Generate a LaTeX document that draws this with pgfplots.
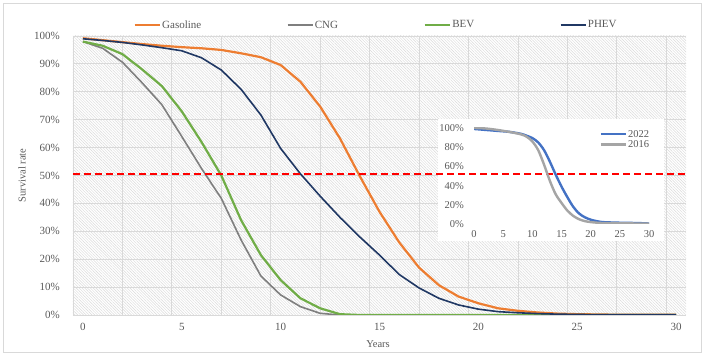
\documentclass[border=0pt]{standalone}
\usepackage{fontspec}
\setmainfont{Liberation Serif}
\usepackage{pgfplots}
\usepackage{pgfplotstable}
\pgfplotsset{compat=1.18}
\usetikzlibrary{patterns.meta}
\definecolor{cGas}{HTML}{ED7D31}
\definecolor{cCNG}{HTML}{7F7F7F}
\definecolor{cBEV}{HTML}{70AD47}
\definecolor{cPHEV}{HTML}{203864}
\definecolor{cA}{HTML}{4472C4}
\definecolor{cB}{HTML}{A5A5A5}
\definecolor{txt}{HTML}{595959}
\definecolor{gridc}{HTML}{D9D9D9}
\definecolor{hatch}{HTML}{DADADA}

\pgfplotstableread{
yr gas cng bev phev
0 99.2 98.0 98.0 99.0
1 98.5 95.6 96.5 98.4
2 97.8 90.6 93.5 97.7
3 97.1 83.2 88.0 96.8
4 96.5 75.3 82.0 95.8
5 96.0 64.0 73.0 94.7
6 95.6 52.5 62.0 92.2
7 95.0 41.8 50.0 87.8
8 93.8 26.9 34.0 80.9
9 92.4 14.0 21.5 71.7
10 89.6 7.2 12.5 59.7
11 83.6 3.0 6.0 50.6
12 74.7 0.6 2.4 42.6
13 63.3 0.0 0.3 35.0
14 49.8 0.0 0.0 28.0
15 37.0 0.0 0.0 21.5
16 26.0 0.0 0.0 14.5
17 17.0 0.0 0.0 9.7
18 10.7 0.0 0.0 6.0
19 6.6 0.0 0.0 3.6
20 4.2 0.0 0.0 2.1
21 2.4 0.0 0.0 1.2
22 1.5 0.0 0.0 0.8
23 0.9 0.0 0.0 0.5
24 0.5 0.0 0.0 0.3
25 0.3 0.0 0.0 0.2
26 0.2 0.0 0.0 0.1
27 0.1 0.0 0.0 0.1
28 0.1 0.0 0.0 0.1
29 0.1 0.0 0.0 0.1
30 0.1 0.0 0.0 0.1
}\maindata

\pgfplotstableread{
x y
0 99.0
2 98.0
4 97.0
6 96.0
8 94.0
9 92.0
10 89.5
11 85.0
12 77.0
13 65.0
14 51.5
15 39.0
16 28.0
17 18.0
18 11.0
19 7.0
20 4.5
21 3.0
22 2.0
24 1.5
26 1.2
28 1.0
30 0.5
}\insetA

\pgfplotstableread{
x y
0 100.0
2 99.5
4 98.0
6 96.0
8 93.5
9 91.0
10 86.0
11 77.0
12 62.0
13 45.0
14 31.0
15 22.0
16 14.0
17 8.5
18 5.0
19 3.0
20 2.0
22 1.0
25 0.8
28 0.5
30 0.3
}\insetB

\begin{document}
\begin{tikzpicture}
\useasboundingbox (-73pt,-41pt) rectangle (631pt,315pt);
\draw[gridc, line width=0.8pt] (-70pt,-37pt) rectangle (628pt,312pt);
\begin{axis}[
  at={(0pt,0pt)}, anchor=south west,
  scale only axis, width=613pt, height=279pt,
  xmin=-0.5, xmax=30.5, ymin=0, ymax=100,
  axis line style={draw=none},
  major tick length=0pt, minor tick length=0pt,
  xtick={0,5,...,30},
  minor xtick={-0.5,2,4.5,7,9.5,12,14.5,17,19.5,22,24.5,27,29.5},
  xminorgrids=true,
  ytick={0,10,...,100},
  ymajorgrids=true,
  grid style={gridc, line width=0.8pt},
  minor grid style={gridc, line width=0.8pt},
  axis background/.style={fill=white, postaction={pattern={Lines[angle=-45,distance=2pt,line width=0.45pt]}, pattern color=hatch}},
  /pgf/number format/assume math mode=true,
  yticklabel={\pgfmathprintnumber{\tick}\%},
  ticklabel style={font=\fontsize{11}{13}\selectfont, text=txt},
  yticklabel style={anchor=east, inner sep=0pt, xshift=-13pt},
  xticklabel style={anchor=center, inner sep=0pt, yshift=-12pt},
  xlabel={Years}, ylabel={Survival rate},
  label style={font=\fontsize{10.5}{12}\selectfont, text=txt},
  xlabel style={at={(axis description cs:0.4976,-0.104)}, anchor=center},
  ylabel style={at={(axis description cs:-0.0832,0.5)}, anchor=center},
  legend columns=4,
  legend image code/.code={\draw[#1] (0pt,0pt) -- (25pt,0pt);},
  legend style={at={(0.494,1.039)}, anchor=center, draw=none, fill=none,
    font=\fontsize{11}{13}\selectfont, text=txt,
    nodes={inner xsep=1.5pt, inner ysep=1pt},
    /tikz/every even column/.append style={column sep=84pt}},
]
\addplot[cGas, line width=2.2pt] table[x=yr, y=gas] {\maindata};
\addlegendentry{Gasoline}
\addplot[cCNG, line width=1.6pt] table[x=yr, y=cng] {\maindata};
\addlegendentry{CNG}
\addplot[cBEV, line width=2.2pt] table[x=yr, y=bev] {\maindata};
\addlegendentry{BEV}
\addplot[cPHEV, line width=1.6pt] table[x=yr, y=phev] {\maindata};
\addlegendentry{PHEV}
\fill[white] (axis cs:17.96,26.5) rectangle (axis cs:29.39,70.25);
\addplot[red, line width=1.6pt, dash pattern=on 7pt off 4pt, forget plot] coordinates {(-0.5,50.5) (30.5,50.5)};
\end{axis}
\begin{axis}[
  at={(401pt,91pt)}, anchor=south west,
  scale only axis, width=175pt, height=96pt,
  xmin=0, xmax=30, ymin=0, ymax=100,
  axis line style={draw=none},
  major tick length=0pt,
  xtick={0,5,...,30}, ytick={0,20,...,100},
  /pgf/number format/assume math mode=true,
  yticklabel={\pgfmathprintnumber{\tick}\%},
  ticklabel style={font=\fontsize{10.5}{12}\selectfont, text=txt},
  yticklabel style={anchor=east, inner sep=0pt, xshift=-10pt},
  xticklabel style={anchor=center, inner sep=0pt, yshift=-10pt},
  legend image code/.code={\draw[#1] (0pt,0pt) -- (25pt,0pt);},
  legend style={at={(rel axis cs:0.70,1.01)}, anchor=north west, draw=none, fill=none,
    font=\fontsize{10.5}{12}\selectfont, text=txt,
    nodes={inner xsep=1pt, inner ysep=0.8pt}},
]
\draw[gridc, line width=0.8pt] (axis cs:-0.2,0) -- (axis cs:30.5,0);
\addplot[cA, line width=2.4pt, smooth] table[x=x, y=y] {\insetA};
\addlegendentry{2022}
\addplot[cB, line width=2.4pt, smooth] table[x=x, y=y] {\insetB};
\addlegendentry{2016}
\end{axis}
\end{tikzpicture}
\end{document}
